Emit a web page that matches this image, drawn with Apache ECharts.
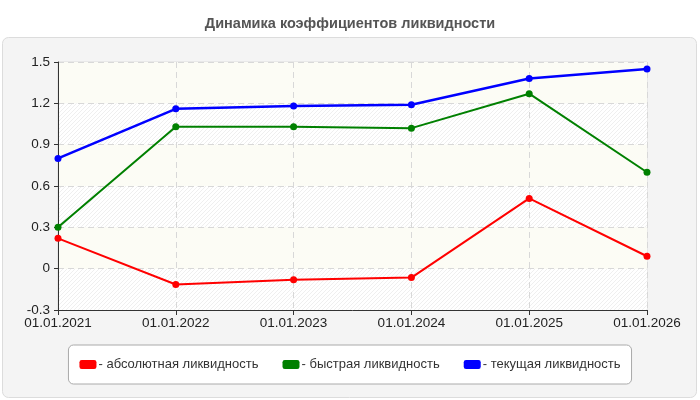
<!DOCTYPE html>
<html lang="ru" style="height: 100%">
<head>
  <meta charset="utf-8">
</head>
<body style="height: 100%; margin: 0">
  <div id="container" style="width: 700px; height: 400px"></div>

  <script type="text/javascript" src="https://fastly.jsdelivr.net/npm/echarts@6/dist/echarts.min.js"></script>
  <script type="text/javascript">
    // даты
    let dates = ['01.01.2021', '01.01.2022', '01.01.2023', '01.01.2024', '01.01.2025', '01.01.2026']
    // абсолютная ликвидность
    let absArr = [0.22, -0.115, -0.08, -0.065, 0.51, 0.09]
    // быстрая ликвидность
    let fastArr = [0.30, 1.03, 1.03, 1.02, 1.27, 0.70]
    // текущая ликвидность
    let curArr = [0.80, 1.16, 1.18, 1.19, 1.38, 1.45]

    let seriesNames = ['абсолютная ликвидность', 'быстрая ликвидность', 'текущая ликвидность']
    let seriesColors = ['#ff0000', '#008000', '#0000ff']
    let seriesWidths = [2, 2, 2.5]
    let seriesData = [absArr, fastArr, curArr]

    // штриховка для полос сетки
    function hatch() {
      var c = document.createElement('canvas');
      c.width = 4;
      c.height = 4;
      var ctx = c.getContext('2d');
      ctx.fillStyle = '#ffffff';
      ctx.fillRect(0, 0, 4, 4);
      ctx.strokeStyle = '#efefef';
      ctx.lineWidth = 1;
      ctx.beginPath();
      ctx.moveTo(0, 4); ctx.lineTo(4, 0);
      ctx.moveTo(-1, 1); ctx.lineTo(1, -1);
      ctx.moveTo(3, 5); ctx.lineTo(5, 3);
      ctx.stroke();
      return { image: c, repeat: 'repeat' };
    }

    var dom = document.getElementById('container');
    var myChart = echarts.init(dom, null, { renderer: 'canvas' });

    var option = {
      backgroundColor: '#fff',
      animation: false,
      title: {
        text: 'Динамика коэффициентов ликвидности',
        left: 'center',
        top: 11,
        textStyle: { fontFamily: 'Liberation Sans', fontSize: 14.5, fontWeight: 'bold', color: '#555' }
      },
      graphic: [{
        type: 'rect',
        z: -10,
        shape: { x: 2.5, y: 37.5, width: 694, height: 360, r: 6 },
        style: { fill: '#f4f4f4', stroke: '#dcdcdc', lineWidth: 1 }
      }],
      legend: {
        bottom: 16,
        left: 'center',
        itemWidth: 17,
        itemHeight: 9,
        itemGap: 24,
        icon: 'roundRect',
        padding: [13, 11, 13, 11],
        backgroundColor: '#fff',
        borderColor: '#aaa',
        borderWidth: 1,
        borderRadius: 5,
        formatter: function (name) { return '- ' + name; },
        textStyle: { fontFamily: 'Liberation Sans', fontSize: 13, color: '#333', padding: [0, 0, 0, -3] },
        data: seriesNames
      },
      grid: {
        left: 58,
        right: 53,
        top: 62,
        bottom: 90,
        show: true,
        borderColor: '#dddddd',
        borderWidth: 1,
        backgroundColor: '#fcfcf5'
      },
      xAxis: {
        type: 'category',
        boundaryGap: false,
        data: dates,
        axisLine: { onZero: false, lineStyle: { color: '#333', width: 1 } },
        axisTick: { show: true, length: 5, lineStyle: { color: '#333' } },
        axisLabel: { fontFamily: 'Liberation Sans', fontSize: 13.5, color: '#222', margin: 6 },
        splitLine: { show: true, lineStyle: { color: '#d8d8d8', type: [6, 4] } }
      },
      yAxis: {
        type: 'value',
        min: -0.3,
        max: 1.5,
        interval: 0.3,
        axisLine: { show: true, lineStyle: { color: '#333', width: 1 } },
        axisTick: { show: true, length: 4, lineStyle: { color: '#333' } },
        axisLabel: {
          fontFamily: 'Liberation Sans', fontSize: 13.5, color: '#222', margin: 8,
          formatter: function (v) { return String(Math.round(v * 10) / 10); }
        },
        splitLine: { show: true, lineStyle: { color: '#d8d8d8', type: [6, 4] } },
        splitArea: {
          show: true,
          areaStyle: { color: [hatch(), '#fcfcf5'] }
        }
      },
      series: seriesNames.map(function (name, i) {
        return {
          name: name,
          type: 'line',
          data: seriesData[i],
          symbol: 'circle',
          symbolSize: 7,
          lineStyle: { width: seriesWidths[i], color: seriesColors[i] },
          itemStyle: { color: seriesColors[i] },
          z: 2 + i
        };
      })
    };

    myChart.setOption(option);
    window.addEventListener('resize', myChart.resize);
  </script>
</body>
</html>
